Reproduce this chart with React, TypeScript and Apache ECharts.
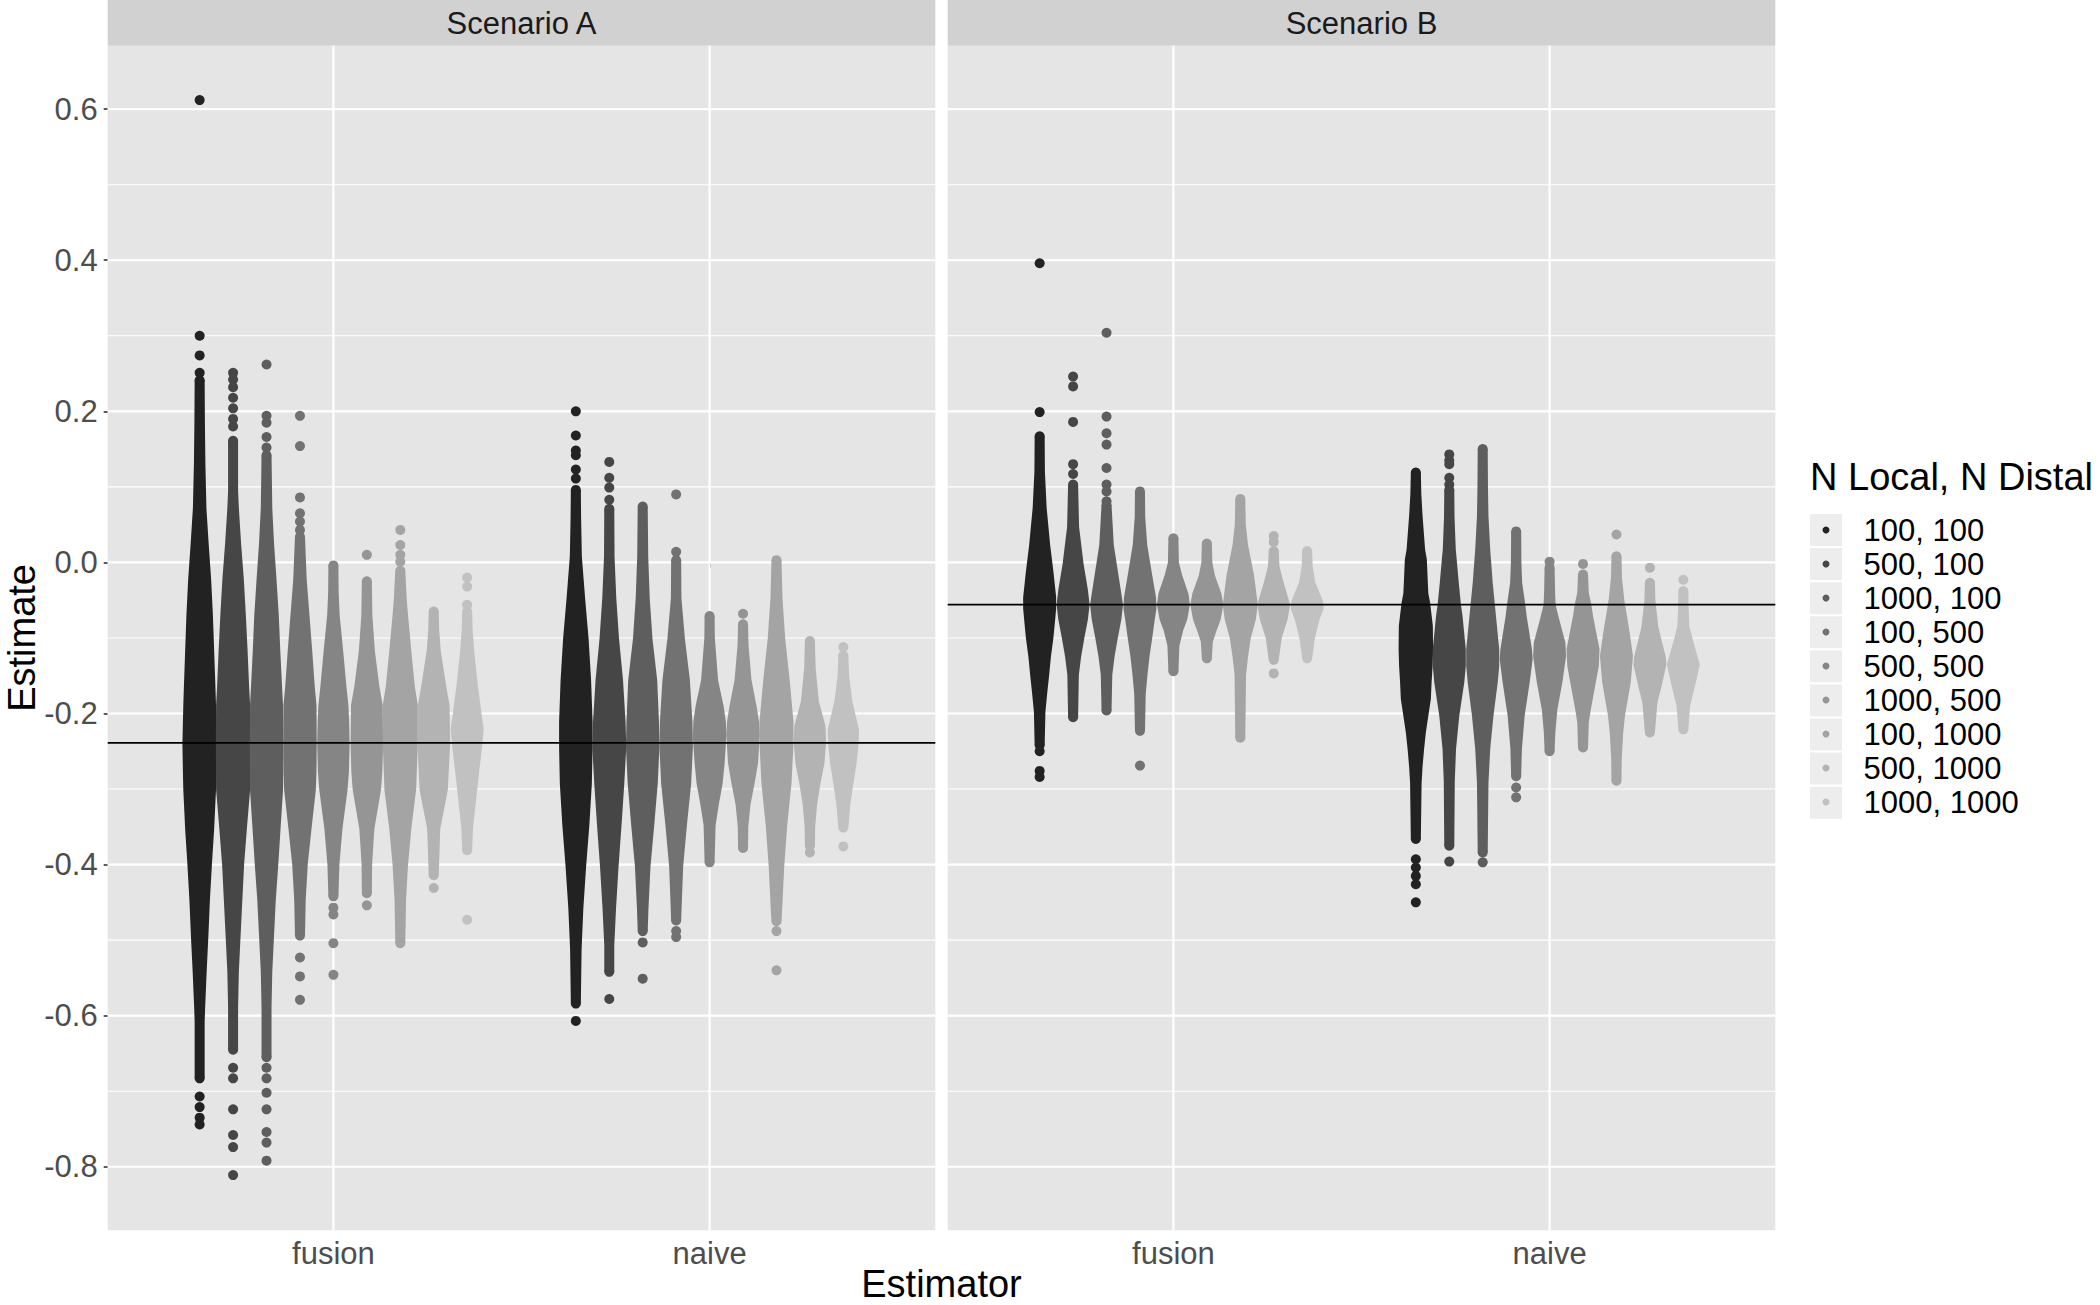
import React, { useEffect, useRef } from "react";
import * as echarts from "echarts";

// ---------- categories / labels ----------
const scenarios = ["Scenario A", "Scenario B"];
const estimators = ["fusion", "naive"];
const sizeLabels = ["100, 100", "500, 100", "1000, 100", "100, 500", "500, 500", "1000, 500", "100, 1000", "500, 1000", "1000, 1000"];
const sizeColors = ["#222222", "#464646", "#5E5E5E", "#727272", "#858585", "#959595", "#A4A4A4", "#B3B3B3", "#C1C1C1"];
const yTicks = [-0.8, -0.6, -0.4, -0.2, 0.0, 0.2, 0.4, 0.6];
const yMinor = [-0.7, -0.5, -0.3, -0.1, 0.1, 0.3, 0.5];
const trueValues = [-0.239, -0.056];

type Row = [number, number]; // [estimate, swarm row width in point diameters]

// ---------- Scenario A, fusion ----------
const swarmA_fusion: Row[][] = [
  [[0.241, 1], [0.185, 1.05], [0.13, 1.15], [0.072, 1.35], [0.025, 1.8], [-0.023, 2.3], [-0.07, 2.65], [-0.117, 2.9], [-0.164, 3.15], [-0.189, 3.27], [-0.211, 3.35], [-0.24, 3.45], [-0.277, 3.35], [-0.301, 3.27], [-0.353, 2.9], [-0.4, 2.45], [-0.447, 2.05], [-0.494, 1.75], [-0.542, 1.4], [-0.589, 1.1], [-0.608, 1], [-0.683, 1]],
  [[0.161, 1], [0.095, 1], [0.072, 1.15], [0.025, 1.6], [-0.023, 2.15], [-0.07, 2.55], [-0.117, 2.9], [-0.164, 3.2], [-0.189, 3.4], [-0.24, 3.45], [-0.301, 3.4], [-0.353, 2.75], [-0.4, 2.2], [-0.447, 1.85], [-0.494, 1.5], [-0.542, 1.15], [-0.589, 1], [-0.645, 1]],
  [[0.142, 1], [0.072, 1.15], [0.025, 1.5], [-0.023, 2.0], [-0.07, 2.45], [-0.117, 2.75], [-0.164, 3.1], [-0.189, 3.3], [-0.24, 3.35], [-0.301, 3.3], [-0.353, 2.8], [-0.4, 2.35], [-0.447, 1.85], [-0.494, 1.5], [-0.542, 1.15], [-0.589, 1], [-0.655, 1]],
  [[0.034, 1], [-0.023, 1.35], [-0.07, 1.9], [-0.117, 2.45], [-0.164, 2.95], [-0.189, 3.3], [-0.24, 3.35], [-0.277, 3.3], [-0.301, 3.17], [-0.353, 2.3], [-0.4, 1.55], [-0.447, 1.15], [-0.494, 1]],
  [[-0.004, 1], [-0.04, 1.05], [-0.07, 1.25], [-0.117, 1.95], [-0.164, 2.6], [-0.189, 3.0], [-0.211, 3.15], [-0.24, 3.25], [-0.277, 3.1], [-0.301, 2.83], [-0.353, 1.8], [-0.4, 1.2], [-0.442, 1]],
  [[-0.025, 1], [-0.07, 1.1], [-0.117, 1.6], [-0.164, 2.5], [-0.189, 3.17], [-0.211, 3.2], [-0.24, 3.25], [-0.277, 3.1], [-0.301, 2.83], [-0.353, 1.5], [-0.4, 1.05], [-0.438, 1]],
  [[-0.011, 1], [-0.05, 1.3], [-0.07, 1.55], [-0.117, 2.2], [-0.164, 2.9], [-0.189, 3.5], [-0.24, 3.5], [-0.277, 3.3], [-0.301, 3.17], [-0.353, 2.2], [-0.4, 1.55], [-0.447, 1.15], [-0.504, 1]],
  [[-0.065, 1], [-0.09, 1.1], [-0.117, 1.4], [-0.164, 2.5], [-0.189, 3.17], [-0.24, 3.3], [-0.277, 3.0], [-0.301, 2.83], [-0.353, 1.3], [-0.414, 1]],
  [[-0.065, 1], [-0.09, 1.1], [-0.117, 1.4], [-0.164, 2.15], [-0.189, 2.67], [-0.202, 2.9], [-0.22, 3.3], [-0.24, 3.05], [-0.277, 2.4], [-0.301, 2.0], [-0.353, 1.15], [-0.381, 1]],
];
const soloA_fusion: number[][] = [
  [0.612, 0.3, 0.274, 0.251, -0.707, -0.721, -0.735, -0.744],
  [0.251, 0.242, 0.232, 0.218, 0.204, 0.19, 0.18, -0.669, -0.683, -0.724, -0.758, -0.774, -0.811],
  [0.262, 0.194, 0.185, 0.166, 0.152, -0.669, -0.683, -0.702, -0.724, -0.754, -0.768, -0.792],
  [0.194, 0.154, 0.086, 0.065, 0.054, 0.043, -0.523, -0.548, -0.579],
  [-0.457, -0.466, -0.504, -0.546],
  [0.01, -0.454],
  [0.043, 0.023, 0.01, 0.001],
  [-0.431],
  [-0.02, -0.032, -0.056, -0.473],
];

// ---------- Scenario A, naive ----------
const swarmA_naive: Row[][] = [
  [[0.096, 1], [0.06, 1.05], [0.008, 1.2], [-0.047, 1.85], [-0.101, 2.55], [-0.156, 3.05], [-0.211, 3.35], [-0.244, 3.35], [-0.293, 3.2], [-0.348, 2.7], [-0.403, 2.05], [-0.458, 1.5], [-0.512, 1.15], [-0.584, 1]],
  [[0.071, 1], [0.008, 1.05], [-0.047, 1.4], [-0.101, 1.95], [-0.156, 2.75], [-0.211, 3.25], [-0.244, 3.4], [-0.293, 3.0], [-0.348, 2.45], [-0.403, 1.85], [-0.458, 1.35], [-0.507, 1], [-0.542, 1]],
  [[0.074, 1], [0.008, 1.1], [-0.047, 1.4], [-0.101, 1.95], [-0.156, 2.9], [-0.211, 3.25], [-0.244, 3.35], [-0.293, 3.0], [-0.348, 2.3], [-0.403, 1.55], [-0.458, 1.15], [-0.488, 1]],
  [[0.003, 1], [-0.047, 1.05], [-0.101, 1.75], [-0.156, 2.75], [-0.211, 3.25], [-0.244, 3.35], [-0.293, 3.0], [-0.348, 2.15], [-0.403, 1.4], [-0.474, 1]],
  [[-0.071, 1], [-0.1, 1.05], [-0.156, 1.7], [-0.19, 2.8], [-0.211, 3.25], [-0.23, 3.35], [-0.266, 3.0], [-0.293, 2.6], [-0.32, 1.85], [-0.348, 1.2], [-0.397, 1]],
  [[-0.082, 1], [-0.11, 1.1], [-0.156, 1.7], [-0.19, 2.7], [-0.211, 3.2], [-0.227, 3.35], [-0.266, 3.0], [-0.293, 2.3], [-0.32, 1.5], [-0.35, 1.05], [-0.378, 1]],
  [[0.003, 1], [-0.047, 1.2], [-0.101, 1.75], [-0.156, 2.65], [-0.211, 3.4], [-0.24, 3.4], [-0.293, 3.0], [-0.348, 2.15], [-0.403, 1.55], [-0.458, 1.15], [-0.475, 1]],
  [[-0.104, 1], [-0.14, 1.15], [-0.184, 1.8], [-0.216, 3.1], [-0.238, 3.25], [-0.266, 2.9], [-0.293, 2.1], [-0.32, 1.45], [-0.35, 1.05], [-0.375, 1]],
  [[-0.123, 1], [-0.15, 1.15], [-0.184, 1.8], [-0.222, 3.15], [-0.24, 3.05], [-0.266, 2.65], [-0.293, 2.0], [-0.32, 1.4], [-0.351, 1]],
];
const soloA_naive: number[][] = [
  [0.2, 0.168, 0.148, 0.142, 0.123, 0.111, -0.607],
  [0.133, 0.112, 0.099, 0.083, -0.578],
  [-0.503, -0.551],
  [0.09, 0.014, -0.488, -0.496],
  [],
  [-0.068],
  [-0.488, -0.54],
  [-0.384],
  [-0.112, -0.376],
];

// ---------- Scenario B, fusion ----------
const swarmB_fusion: Row[][] = [
  [[0.167, 1], [0.12, 1.05], [0.072, 1.4], [0.023, 2.1], [-0.012, 2.75], [-0.046, 3.3], [-0.061, 3.3], [-0.076, 3.1], [-0.1, 2.75], [-0.125, 2.25], [-0.149, 1.9], [-0.174, 1.5], [-0.198, 1.15], [-0.242, 1]],
  [[0.103, 1], [0.047, 1.2], [-0.002, 2.1], [-0.036, 2.95], [-0.056, 3.3], [-0.076, 2.95], [-0.1, 2.25], [-0.125, 1.6], [-0.149, 1.15], [-0.205, 1]],
  [[0.076, 1], [0.023, 1.45], [-0.026, 2.6], [-0.056, 3.3], [-0.076, 2.95], [-0.1, 2.25], [-0.125, 1.6], [-0.149, 1.15], [-0.196, 1]],
  [[0.094, 1], [0.06, 1.05], [0.023, 1.45], [-0.017, 2.45], [-0.046, 3.2], [-0.061, 3.3], [-0.076, 2.95], [-0.1, 2.45], [-0.125, 1.9], [-0.149, 1.5], [-0.174, 1.15], [-0.223, 1]],
  [[0.032, 1], [0.0, 1.1], [-0.017, 1.75], [-0.041, 3.0], [-0.056, 3.3], [-0.076, 2.75], [-0.09, 1.95], [-0.11, 1.2], [-0.144, 1]],
  [[0.025, 1], [0.0, 1.1], [-0.017, 1.6], [-0.041, 2.9], [-0.056, 3.3], [-0.076, 2.75], [-0.09, 1.95], [-0.105, 1.2], [-0.127, 1]],
  [[0.084, 1], [0.05, 1.1], [0.023, 1.55], [-0.017, 2.75], [-0.056, 3.5], [-0.076, 3.1], [-0.1, 2.1], [-0.125, 1.55], [-0.149, 1.15], [-0.232, 1]],
  [[0.015, 1], [-0.005, 1.15], [-0.026, 1.95], [-0.056, 3.3], [-0.076, 2.75], [-0.1, 1.6], [-0.129, 1]],
  [[0.015, 1], [-0.005, 1.1], [-0.026, 1.6], [-0.051, 3.15], [-0.061, 3.3], [-0.076, 2.45], [-0.1, 1.55], [-0.127, 1]],
];
const soloB_fusion: number[][] = [
  [0.396, 0.199, -0.25, -0.276, -0.284],
  [0.246, 0.233, 0.186, 0.13, 0.117],
  [0.304, 0.193, 0.171, 0.156, 0.125, 0.103, 0.094, 0.081],
  [-0.269],
  [],
  [],
  [],
  [0.035, 0.027, -0.147],
  [],
];

// ---------- Scenario B, naive ----------
const swarmB_naive: Row[][] = [
  [[0.119, 1], [0.09, 1.1], [0.061, 1.35], [0.017, 1.85], [0.004, 2.2], [-0.027, 2.4], [-0.041, 2.5], [-0.053, 2.85], [-0.084, 3.4], [-0.115, 3.45], [-0.137, 3.35], [-0.159, 3.15], [-0.181, 3.0], [-0.203, 2.5], [-0.225, 2.0], [-0.247, 1.65], [-0.27, 1.35], [-0.292, 1.15], [-0.366, 1]],
  [[0.096, 1], [0.06, 1.05], [0.017, 1.3], [0.003, 1.5], [-0.027, 1.9], [-0.056, 2.33], [-0.071, 2.65], [-0.115, 3.3], [-0.137, 3.3], [-0.159, 3.0], [-0.203, 2.0], [-0.247, 1.35], [-0.29, 1.1], [-0.375, 1]],
  [[0.15, 1], [0.1, 1.05], [0.061, 1.15], [0.017, 1.5], [-0.027, 2.0], [-0.071, 2.65], [-0.115, 3.3], [-0.137, 3.3], [-0.159, 3.0], [-0.203, 2.15], [-0.247, 1.5], [-0.292, 1.15], [-0.384, 1]],
  [[0.041, 1], [0.0, 1.05], [-0.027, 1.2], [-0.056, 1.83], [-0.071, 2.1], [-0.115, 3.15], [-0.128, 3.3], [-0.159, 2.7], [-0.203, 1.7], [-0.247, 1.15], [-0.283, 1]],
  [[-0.007, 1], [-0.04, 1.1], [-0.056, 1.2], [-0.071, 1.75], [-0.106, 3.15], [-0.124, 3.3], [-0.159, 2.55], [-0.195, 1.55], [-0.225, 1.15], [-0.25, 1]],
  [[-0.016, 1], [-0.04, 1.15], [-0.056, 1.67], [-0.071, 2.0], [-0.115, 3.3], [-0.137, 3.15], [-0.159, 2.55], [-0.195, 1.55], [-0.212, 1.15], [-0.245, 1]],
  [[0.008, 1], [-0.02, 1.1], [-0.049, 1.55], [-0.093, 2.65], [-0.124, 3.3], [-0.159, 2.85], [-0.203, 1.7], [-0.225, 1.35], [-0.26, 1.05], [-0.289, 1]],
  [[-0.027, 1], [-0.05, 1.1], [-0.085, 1.67], [-0.11, 2.6], [-0.125, 3.17], [-0.135, 3.3], [-0.159, 2.5], [-0.186, 1.5], [-0.225, 1]],
  [[-0.038, 1], [-0.06, 1.05], [-0.085, 1.2], [-0.105, 2.0], [-0.125, 2.85], [-0.135, 3.3], [-0.159, 2.5], [-0.19, 1.35], [-0.221, 1]],
];
const soloB_naive: number[][] = [
  [-0.393, -0.404, -0.415, -0.426, -0.45],
  [0.143, 0.135, 0.13, 0.112, 0.103, -0.396],
  [-0.397],
  [-0.298, -0.311],
  [0.001],
  [-0.002],
  [0.037],
  [-0.007],
  [-0.023],
];

// panel -> estimator -> group
const swarms: Row[][][][] = [
  [swarmA_fusion, swarmA_naive],
  [swarmB_fusion, swarmB_naive],
];
const solos: number[][][][] = [
  [soloA_fusion, soloA_naive],
  [soloB_fusion, soloB_naive],
];

// ---------- layout / style ----------
const FONT = "'Liberation Sans', Arial, Helvetica, sans-serif";
const PANEL_LEFT = [107.7, 947.7];
const PANEL_W = 827.6;
const PANEL_TOP = 45.7;
const PANEL_H = 1184.5;
const Y_MIN = -0.884;
const Y_MAX = 0.684;
const DOT = 10;
const DODGE = 0.8;
const LEG_X = 1810;
const LEG_Y = 513;
const LEG_STEP = 34.08;

const groupX = (e: number, g: number) => e + 1 + (g - 4) * (DODGE / sizeLabels.length);

function buildOption() {
  const series: any[] = [];

  for (let p = 0; p < 2; p++) {
    // horizontal grid lines
    series.push({
      type: "custom",
      xAxisIndex: p,
      yAxisIndex: p,
      silent: true,
      z: 1,
      data: yTicks.map((v) => [1, v, 1]).concat(yMinor.map((v) => [1, v, 0])),
      renderItem: (params: any, api: any) => {
        const cs = params.coordSys;
        const y = api.coord([1, api.value(1)])[1];
        const major = api.value(2) === 1;
        return {
          type: "line",
          shape: { x1: cs.x, y1: y, x2: cs.x + cs.width, y2: y },
          style: { stroke: "#FFFFFF", lineWidth: major ? 2.2 : 1.1 },
        };
      },
    });
    // vertical grid lines
    series.push({
      type: "custom",
      xAxisIndex: p,
      yAxisIndex: p,
      silent: true,
      z: 1,
      data: estimators.map((_, i) => [i + 1, 0]),
      renderItem: (params: any, api: any) => {
        const cs = params.coordSys;
        const x = api.coord([api.value(0), 0])[0];
        return {
          type: "line",
          shape: { x1: x, y1: cs.y, x2: x, y2: cs.y + cs.height },
          style: { stroke: "#FFFFFF", lineWidth: 2.2 },
        };
      },
    });
    // swarm bodies
    const bodyData: number[][] = [];
    for (let e = 0; e < 2; e++) for (let g = 0; g < sizeLabels.length; g++) bodyData.push([groupX(e, g), 0, e, g]);
    const panelSwarms = swarms[p];
    series.push({
      type: "custom",
      xAxisIndex: p,
      yAxisIndex: p,
      silent: true,
      z: 2,
      data: bodyData,
      renderItem: (params: any, api: any) => {
        const e = api.value(2);
        const g = api.value(3);
        const xc = api.value(0);
        const prof = panelSwarms[e][g];
        const cx = api.coord([xc, 0])[0];
        const R = DOT / 2;
        const n = prof.length;
        const yOf = (v: number) => api.coord([xc, v])[1];
        const right: number[][] = prof.map(([v, w]) => [cx + w * R, yOf(v)]);
        const left: number[][] = prof.slice().reverse().map(([v, w]) => [cx - w * R, yOf(v)]);
        const c = sizeColors[g];
        const st = { fill: c };
        return {
          type: "group",
          children: [
            { type: "polygon", shape: { points: right.concat(left) }, style: st },
            { type: "circle", shape: { cx, cy: yOf(prof[0][0]), r: R }, style: st },
            { type: "circle", shape: { cx, cy: yOf(prof[n - 1][0]), r: R }, style: st },
          ],
        };
      },
    });
    // isolated points
    for (let g = 0; g < sizeLabels.length; g++) {
      const data: number[][] = [];
      for (let e = 0; e < 2; e++) for (const v of solos[p][e][g]) data.push([groupX(e, g), v]);
      series.push({
        type: "scatter",
        name: sizeLabels[g],
        xAxisIndex: p,
        yAxisIndex: p,
        z: 3,
        silent: true,
        symbol: "circle",
        symbolSize: DOT,
        itemStyle: { color: sizeColors[g], opacity: 1 },
        data,
      });
    }
    // true-value reference line
    series.push({
      type: "custom",
      xAxisIndex: p,
      yAxisIndex: p,
      silent: true,
      z: 5,
      data: [[1, trueValues[p]]],
      renderItem: (params: any, api: any) => {
        const cs = params.coordSys;
        const y = api.coord([1, api.value(1)])[1];
        return {
          type: "line",
          shape: { x1: cs.x, y1: y, x2: cs.x + cs.width, y2: y },
          style: { stroke: "#000000", lineWidth: 1.8 },
        };
      },
    });
  }

  const graphic: any[] = [];
  for (let p = 0; p < 2; p++) {
    graphic.push({
      type: "rect",
      silent: true,
      shape: { x: PANEL_LEFT[p], y: 0, width: PANEL_W, height: PANEL_TOP },
      style: { fill: "#D1D1D1" },
    });
    graphic.push({
      type: "text",
      silent: true,
      x: PANEL_LEFT[p] + PANEL_W / 2,
      y: 23,
      style: { text: scenarios[p], font: `31px ${FONT}`, fill: "#1A1A1A", align: "center", verticalAlign: "middle" },
    });
  }
  graphic.push({
    type: "text",
    silent: true,
    x: 22,
    y: PANEL_TOP + PANEL_H / 2,
    rotation: Math.PI / 2,
    style: { text: "Estimate", font: `38px ${FONT}`, fill: "#000000", align: "center", verticalAlign: "middle" },
  });
  graphic.push({
    type: "text",
    silent: true,
    x: (PANEL_LEFT[0] + PANEL_LEFT[1] + PANEL_W) / 2,
    y: 1284,
    style: { text: "Estimator", font: `38px ${FONT}`, fill: "#000000", align: "center", verticalAlign: "middle" },
  });
  graphic.push({
    type: "text",
    silent: true,
    x: LEG_X,
    y: 477,
    style: { text: "N Local, N Distal", font: `38px ${FONT}`, fill: "#000000", align: "left", verticalAlign: "middle" },
  });
  for (let g = 0; g < sizeLabels.length; g++) {
    graphic.push({
      type: "rect",
      silent: true,
      z: -1,
      shape: { x: LEG_X, y: LEG_Y + 1 + g * LEG_STEP, width: 32, height: 32 },
      style: { fill: "#EDEDED" },
    });
  }

  return {
    animation: false,
    backgroundColor: "#FFFFFF",
    textStyle: { fontFamily: FONT },
    grid: [0, 1].map((p) => ({
      left: PANEL_LEFT[p],
      top: PANEL_TOP,
      width: PANEL_W,
      height: PANEL_H,
      show: true,
      backgroundColor: "#E5E5E5",
      borderWidth: 0,
    })),
    xAxis: [0, 1].map((p) => ({
      type: "value",
      gridIndex: p,
      min: 0.4,
      max: 2.6,
      axisLine: { show: false },
      splitLine: { show: false },
      axisTick: { show: true, customValues: [1, 2], length: 5, lineStyle: { color: "#333333", width: 1.6 } },
      axisLabel: {
        show: true,
        customValues: [1, 2],
        formatter: (v: number) => estimators[Math.round(v) - 1] ?? "",
        fontSize: 31,
        fontFamily: FONT,
        color: "#4D4D4D",
        margin: 8,
      },
    })),
    yAxis: [0, 1].map((p) => ({
      type: "value",
      gridIndex: p,
      min: Y_MIN,
      max: Y_MAX,
      axisLine: { show: false },
      splitLine: { show: false },
      axisTick: { show: p === 0, customValues: yTicks, length: 4, lineStyle: { color: "#333333", width: 1.6 } },
      axisLabel: {
        show: p === 0,
        customValues: yTicks,
        formatter: (v: number) => v.toFixed(1),
        fontSize: 31,
        fontFamily: FONT,
        color: "#4D4D4D",
        margin: 10,
      },
    })),
    legend: {
      data: sizeLabels.map((name) => ({ name, icon: "circle" })),
      orient: "vertical",
      left: LEG_X + 12.5,
      top: LEG_Y,
      padding: 0,
      itemGap: 0,
      itemWidth: 7,
      itemHeight: 7,
      selectedMode: false,
      textStyle: { fontSize: 31, lineHeight: 34, color: "#000000", fontFamily: FONT, padding: [0, 0, 0, 29] },
    },
    graphic,
    series,
  };
}

export default function App() {
  const ref = useRef<HTMLDivElement>(null);
  useEffect(() => {
    if (!ref.current) return;
    const chart = echarts.init(ref.current, undefined, { renderer: "svg" });
    chart.setOption(buildOption() as any);
    return () => chart.dispose();
  }, []);
  return <div ref={ref} style={{ position: "absolute", left: 0, top: 0, width: 2100, height: 1305, background: "#FFFFFF" }} />;
}
